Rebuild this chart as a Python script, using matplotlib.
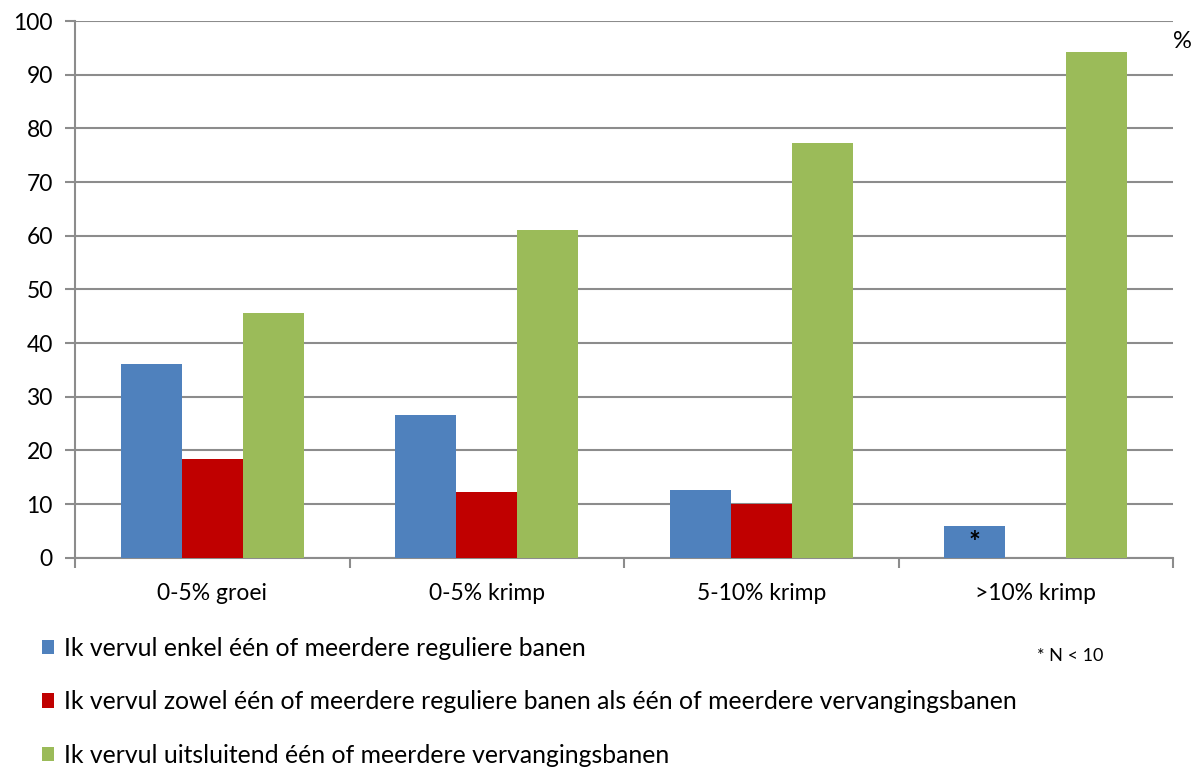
import numpy as np
import matplotlib.pyplot as plt

plt.rcParams['font.family'] = ['Lato', 'DejaVu Sans']

categories = ["0-5% groei", "0-5% krimp", "5-10% krimp", ">10% krimp"]
series_labels = [
    "Ik vervul enkel één of meerdere reguliere banen",
    "Ik vervul zowel één of meerdere reguliere banen als één of meerdere vervangingsbanen",
    "Ik vervul uitsluitend één of meerdere vervangingsbanen",
]
blue_vals = [36.1, 26.6, 12.6, 5.9]
red_vals = [18.3, 12.2, 10.0, 0.0]
green_vals = [45.6, 61.0, 77.3, 94.2]
colors = ["#4F81BD", "#C00000", "#9BBB59"]

fig = plt.figure(figsize=(11.94, 7.69), dpi=100)
ax = fig.add_axes([75 / 1194, (769 - 557.7) / 769, 1098 / 1194, 536.7 / 769])

x = np.arange(len(categories))
w = 0.222
handles = []
for i, (vals, col) in enumerate(zip([blue_vals, red_vals, green_vals], colors)):
    b = ax.bar(x + (i - 1) * w, vals, width=w, color=col, zorder=3, label=series_labels[i])
    handles.append(b)

# small-sample marker on the last blue bar
ax.text(x[3] - w, blue_vals[3] / 2 - 0.3, "*", ha="center", va="center", fontsize=20,
        fontweight="bold", zorder=4)

ax.set_xlim(-0.5, len(categories) - 0.5)
ax.set_ylim(0, 100)
ax.set_yticks(np.arange(0, 101, 10))
ax.yaxis.grid(True, color="#8c8c8c", linewidth=1.5, zorder=0)
ax.set_axisbelow(True)

for s in ["top", "right"]:
    ax.spines[s].set_visible(False)
for s in ["left", "bottom"]:
    ax.spines[s].set_color("#8c8c8c")
    ax.spines[s].set_linewidth(1.5)

ax.set_xticks(x)
ax.set_xticklabels(categories, fontsize=16.5)
ax.tick_params(axis="x", length=0, pad=18)
ax.set_xticks(np.arange(-0.5, len(categories)), minor=True)
ax.tick_params(axis="x", which="minor", length=7, width=1.5, color="#8c8c8c")
ax.tick_params(axis="y", length=7, width=1.5, color="#8c8c8c", labelsize=16.5, pad=9)

fig.text(1173 / 1194, 1 - 42 / 769, "%", fontsize=17, ha="left", va="center")
fig.text(1037 / 1194, 1 - 656 / 769, "* N < 10", fontsize=13, ha="left", va="center")

fig.legend(handles, series_labels, loc="upper left", bbox_to_anchor=(32 / 1194, 1 - 627 / 769),
           frameon=False, fontsize=17.8, handlelength=0.5, handleheight=0.5, handletextpad=0.4,
           labelspacing=1.23, borderaxespad=0)

fig.savefig("out.png", dpi=100)
